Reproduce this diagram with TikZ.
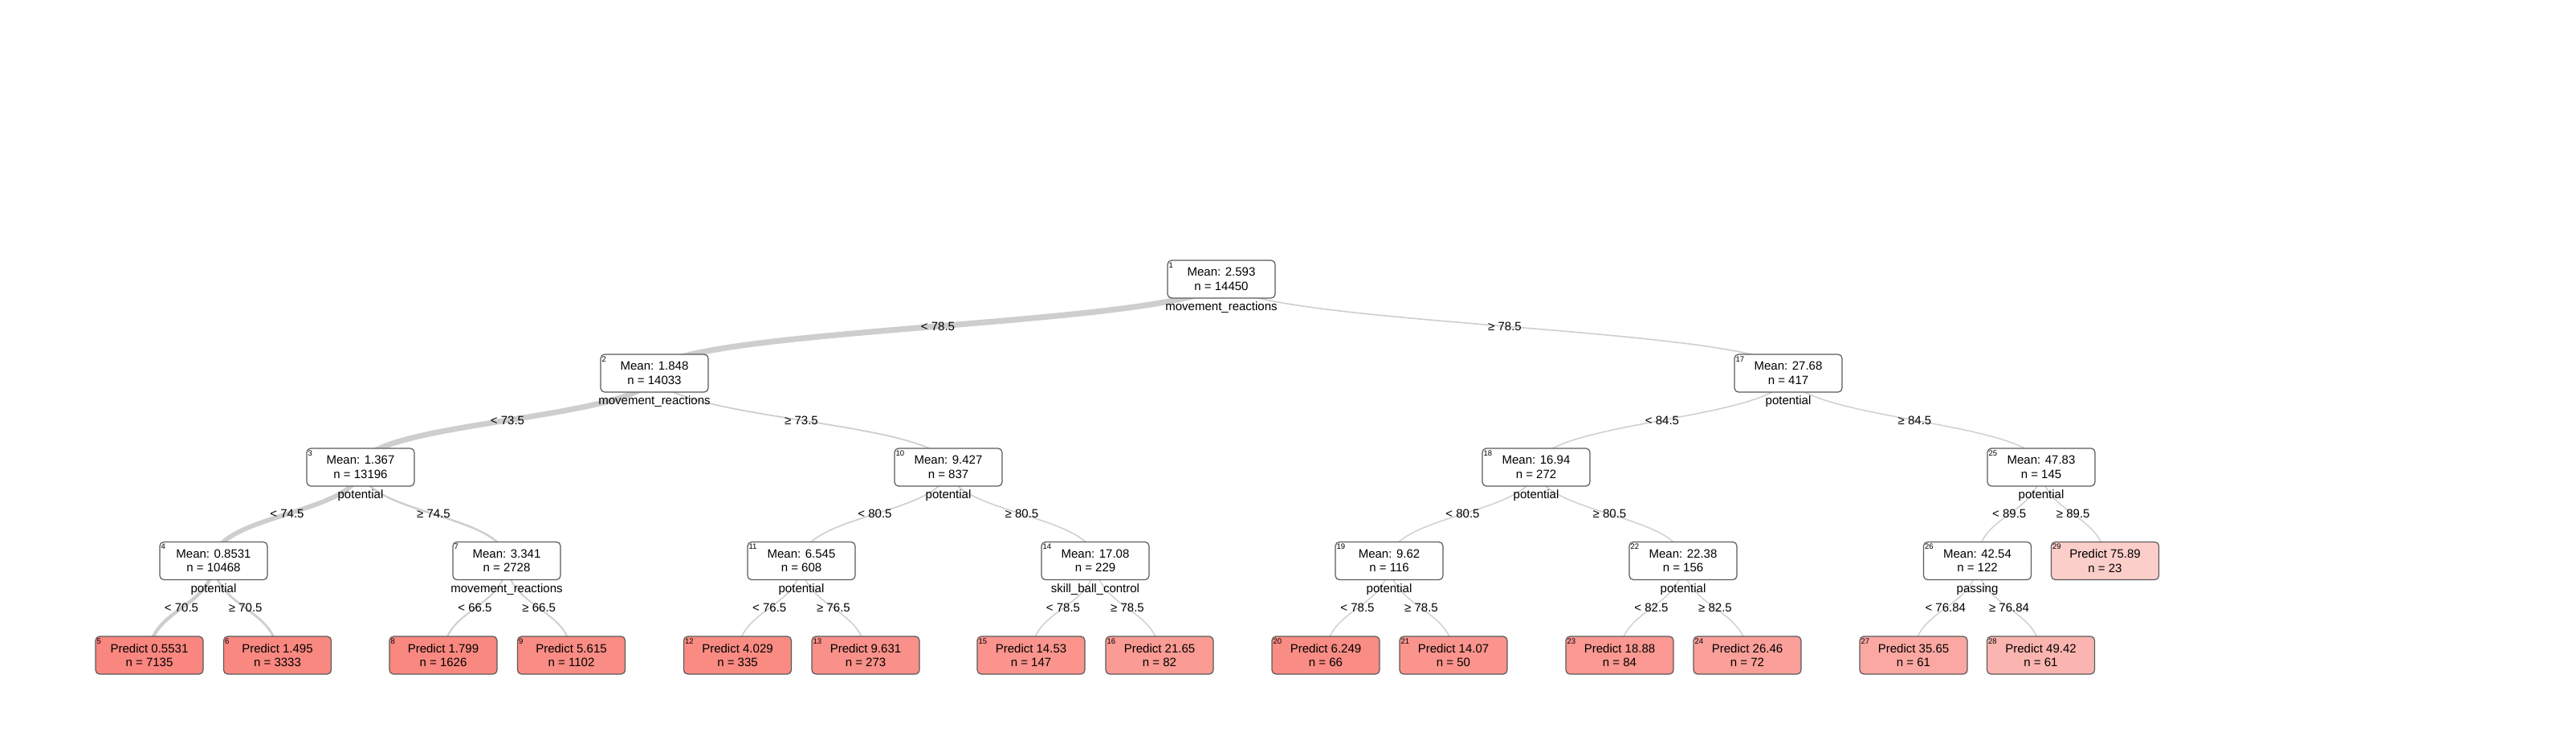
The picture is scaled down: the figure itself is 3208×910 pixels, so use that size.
\documentclass[tikz,border=0pt]{standalone}
\usepackage{fontspec}
\setmainfont{Liberation Sans}
\usetikzlibrary{calc,backgrounds}
\definecolor{salmon}{RGB}{248,118,109}
\definecolor{edgegray}{RGB}{206,206,206}
\definecolor{bordergray}{RGB}{90,90,90}
\tikzset{
  box/.style={draw=bordergray, line width=1.2pt, rounded corners=5pt,
    minimum width=134pt, minimum height=47pt, inner sep=0pt, align=center,
    font=\fontsize{15}{17.5}\selectfont},
  ibox/.style={box, fill=white},
  lbox/.style={box, fill=salmon!#1!white},
  num/.style={anchor=north west, inner sep=0pt, font=\fontsize{9.5}{10}\selectfont},
  var/.style={anchor=base, inner sep=0pt, font=\fontsize{15}{17}\selectfont},
  elab/.style={inner sep=0pt, font=\fontsize{15}{17}\selectfont},
  link/.style={draw=edgegray, line cap=butt},
}
\newcommand\IN[5]{%
  \node[ibox] (n#1) at (#2,#3) {Mean: #4\\n = #5};
  \node[num] (k#1) at ($(n#1.north west)+(2,3)$) {#1};}
\newcommand\LF[6]{%
  \node[lbox=#6] (n#1) at (#2,#3) {Predict #4\\n = #5};
  \node[num] (k#1) at ($(n#1.north west)+(2,3)$) {#1};}
\newcommand\VAR[2]{\node[var] (v#1) at ($(n#1.south)+(0,15)$) {#2};}
\newcommand\LINK[4]{%
  \path ($(n#1.center)!0.5!(n#2.center)$) coordinate (m#1x#2);
  \begin{pgfonlayer}{background}
  \draw[link, line width=#3pt] (n#1.center) .. controls (n#1.center |- m#1x#2) and (n#2.center |- m#1x#2) .. (n#2.center);
  \end{pgfonlayer}
  \node[elab] (e#1x#2) at (m#1x#2) {#4};}
\begin{document}
\begin{tikzpicture}[x=1pt,y=-1pt]
\useasboundingbox (0,0) rectangle (3208,910);
% level 0
\IN{1}{1521}{347.5}{2.593}{14450}
% level 1
\IN{2}{815}{464.5}{1.848}{14033}
\IN{17}{2227}{464.5}{27.68}{417}
% level 2
\IN{3}{449}{581.5}{1.367}{13196}
\IN{10}{1181}{581.5}{9.427}{837}
\IN{18}{1913}{581.5}{16.94}{272}
\IN{25}{2542}{581.5}{47.83}{145}
% level 3
\IN{4}{266}{698}{0.8531}{10468}
\IN{7}{631}{698}{3.341}{2728}
\IN{11}{998}{698}{6.545}{608}
\IN{14}{1364}{698}{17.08}{229}
\IN{19}{1730}{698}{9.62}{116}
\IN{22}{2096}{698}{22.38}{156}
\IN{26}{2462.5}{698}{42.54}{122}
\LF{29}{2621.5}{698}{75.89}{23}{36}
% level 4
\LF{5}{186}{815.5}{0.5531}{7135}{88}
\LF{6}{345.5}{815.5}{1.495}{3333}{87}
\LF{8}{552}{815.5}{1.799}{1626}{87}
\LF{9}{711.5}{815.5}{5.615}{1102}{84}
\LF{12}{918.5}{815.5}{4.029}{335}{85}
\LF{13}{1078}{815.5}{9.631}{273}{81}
\LF{15}{1284}{815.5}{14.53}{147}{78}
\LF{16}{1444}{815.5}{21.65}{82}{73}
\LF{20}{1651}{815.5}{6.249}{66}{84}
\LF{21}{1810}{815.5}{14.07}{50}{78}
\LF{23}{2017}{815.5}{18.88}{84}{75}
\LF{24}{2176}{815.5}{26.46}{72}{70}
\LF{27}{2383}{815.5}{35.65}{61}{64}
\LF{28}{2541.5}{815.5}{49.42}{61}{54}
% split variables
\VAR{1}{movement\_reactions}
\VAR{2}{movement\_reactions}
\VAR{3}{potential}
\VAR{4}{potential}
\VAR{7}{movement\_reactions}
\VAR{10}{potential}
\VAR{11}{potential}
\VAR{14}{skill\_ball\_control}
\VAR{17}{potential}
\VAR{18}{potential}
\VAR{19}{potential}
\VAR{22}{potential}
\VAR{25}{potential}
\VAR{26}{passing}
% links
\LINK{1}{2}{7.2}{< 78.5}
\LINK{1}{17}{1.6}{≥ 78.5}
\LINK{2}{3}{6.9}{< 73.5}
\LINK{2}{10}{1.75}{≥ 73.5}
\LINK{3}{4}{5.75}{< 74.5}
\LINK{3}{7}{2.5}{≥ 74.5}
\LINK{4}{5}{4.35}{< 70.5}
\LINK{4}{6}{2.8}{≥ 70.5}
\LINK{7}{8}{2.05}{< 66.5}
\LINK{7}{9}{1.85}{≥ 66.5}
\LINK{10}{11}{1.65}{< 80.5}
\LINK{10}{14}{1.5}{≥ 80.5}
\LINK{11}{12}{1.5}{< 76.5}
\LINK{11}{13}{1.5}{≥ 76.5}
\LINK{14}{15}{1.45}{< 78.5}
\LINK{14}{16}{1.4}{≥ 78.5}
\LINK{17}{18}{1.5}{< 84.5}
\LINK{17}{25}{1.45}{≥ 84.5}
\LINK{18}{19}{1.45}{< 80.5}
\LINK{18}{22}{1.45}{≥ 80.5}
\LINK{19}{20}{1.4}{< 78.5}
\LINK{19}{21}{1.4}{≥ 78.5}
\LINK{22}{23}{1.4}{< 82.5}
\LINK{22}{24}{1.4}{≥ 82.5}
\LINK{25}{26}{1.45}{< 89.5}
\LINK{25}{29}{1.4}{≥ 89.5}
\LINK{26}{27}{1.4}{< 76.84}
\LINK{26}{28}{1.4}{≥ 76.84}
\end{tikzpicture}
\end{document}
